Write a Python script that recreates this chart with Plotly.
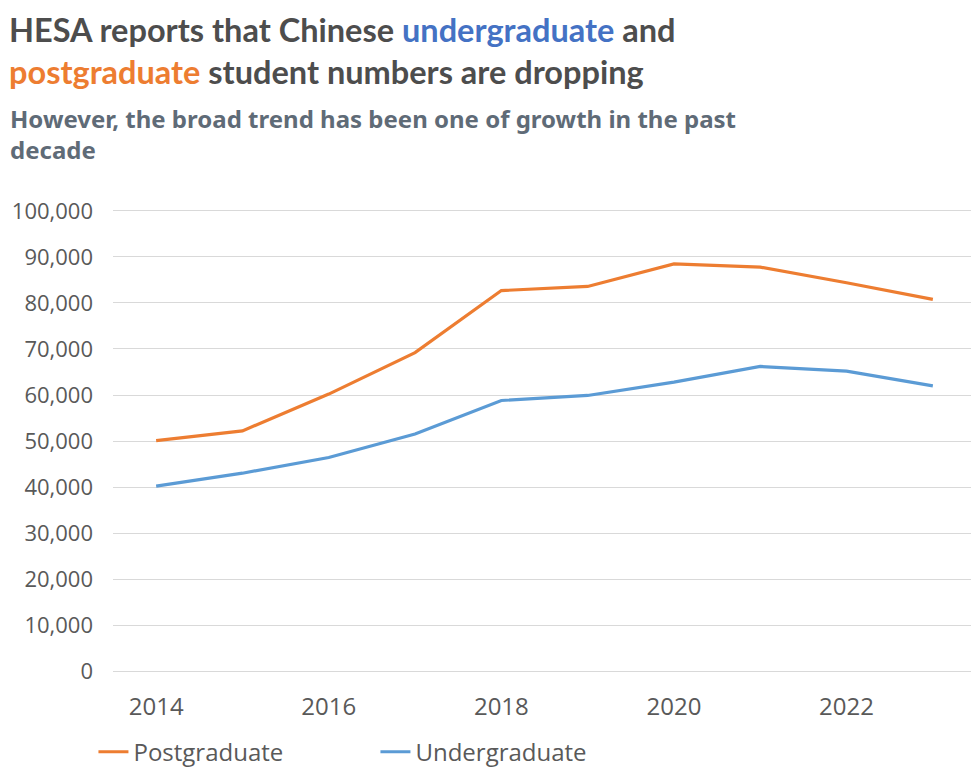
import plotly.graph_objects as go

# HESA: Chinese student numbers in UK higher education
years = [2014, 2015, 2016, 2017, 2018, 2019, 2020, 2021, 2022, 2023]
postgraduate = [50100, 52200, 60200, 69200, 82700, 83600, 88500, 87800, 84400, 80800]
undergraduate = [40200, 43000, 46400, 51500, 58800, 59900, 62800, 66200, 65200, 62000]

y_ticks = list(range(0, 100001, 10000))
x_ticks = [2014, 2016, 2018, 2020, 2022]

ORANGE = "#ED7D31"
BLUE = "#5B9BD5"
TITLE_BLUE = "#4472C4"
GREY = "#595959"

fig = go.Figure()
fig.add_trace(go.Scatter(x=years, y=postgraduate, mode="lines", name="Postgraduate",
                         line=dict(color=ORANGE, width=3.2)))
fig.add_trace(go.Scatter(x=years, y=undergraduate, mode="lines", name="Undergraduate",
                         line=dict(color=BLUE, width=3.2)))

title_txt = (
    "HESA reports that Chinese "
    f"<span style='color:{TITLE_BLUE}'>undergraduate</span> and<br>"
    f"<span style='color:{ORANGE}'>postgraduate</span> student numbers are dropping"
)

# page body has an 8px margin, so the figure is a bit smaller than the window
fig.update_layout(
    width=971, height=764,
    paper_bgcolor="white", plot_bgcolor="white",
    margin=dict(l=105, r=3, t=197, b=95),
    font=dict(family="Open Sans", color=GREY),
    showlegend=True,
    legend=dict(orientation="h", xref="container", yref="container",
                x=0.088, xanchor="left", y=0.026, yanchor="middle",
                font=dict(family="Open Sans", size=24, color=GREY),
                entrywidth=237, entrywidthmode="pixels", itemwidth=30),
)

fig.add_annotation(
    text=title_txt,
    xref="paper", yref="paper", x=-0.1217, y=1.4145, xanchor="left", yanchor="top",
    align="left", showarrow=False, borderpad=0,
    font=dict(family="Lato", size=32.5, color="#4D4D4D", weight="bold"),
)
fig.add_annotation(
    text="However, the broad trend has been one of growth in the past<br>decade",
    xref="paper", yref="paper", x=-0.1217, y=1.222, xanchor="left", yanchor="top",
    align="left", showarrow=False,
    font=dict(family="Noto Sans", size=24, color="#5F6B77", weight="bold"),
)

fig.update_xaxes(range=[2013.5, 2023.5], tickvals=x_ticks, ticktext=[str(t) for t in x_ticks],
                 showgrid=False, zeroline=False, showline=False, automargin=False,
                 tickfont=dict(size=24, color=GREY), ticklabelstandoff=13)
fig.update_yaxes(range=[-1300, 101300], tickvals=y_ticks,
                 ticktext=[f"{v:,}" for v in y_ticks],
                 showgrid=True, gridcolor="#D9D9D9", gridwidth=1, zeroline=False,
                 showline=False, automargin=True,
                 tickfont=dict(size=22, color=GREY), ticklabelstandoff=19)

fig.write_html("out.html")
